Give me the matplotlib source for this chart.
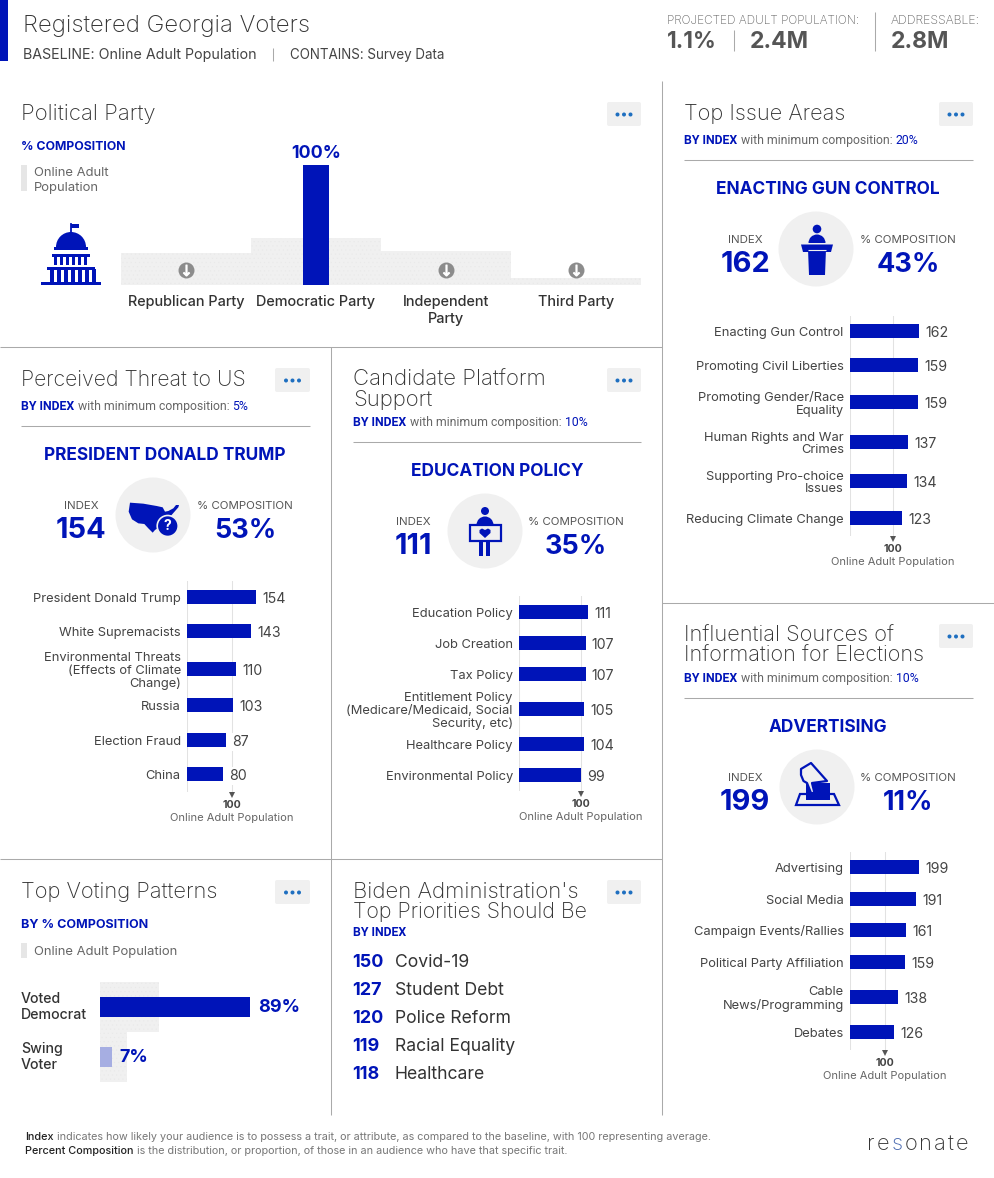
import matplotlib
matplotlib.use("Agg")
import matplotlib.pyplot as plt
from matplotlib.patches import Rectangle, Circle, Polygon, FancyBboxPatch, Wedge

W, H = 994, 1178
BLUE = "#0014b8"
GRAYBAR = "#f0f0f0"
SANS = "Inter"
COND = "Roboto"
plt.rcParams["hatch.linewidth"] = 0.3

# ---------- data ----------
party_names = ["Republican Party", "Democratic Party", "Independent\nParty", "Third Party"]
party_audience = [0, 100, 0, 0]
party_baseline = [27, 39, 28, 6]

threat_labels = ["President Donald Trump", "White Supremacists",
                 "Environmental Threats\n(Effects of Climate\nChange)", "Russia", "Election Fraud", "China"]
threat_values = [154, 143, 110, 103, 87, 80]

platform_labels = ["Education Policy", "Job Creation", "Tax Policy",
                   "Entitlement Policy\n(Medicare/Medicaid, Social\nSecurity, etc)", "Healthcare Policy",
                   "Environmental Policy"]
platform_values = [111, 107, 107, 105, 104, 99]

issue_labels = ["Enacting Gun Control", "Promoting Civil Liberties", "Promoting Gender/Race\nEquality",
                "Human Rights and War\nCrimes", "Supporting Pro-choice\nIssues", "Reducing Climate Change"]
issue_values = [162, 159, 159, 137, 134, 123]

source_labels = ["Advertising", "Social Media", "Campaign Events/Rallies", "Political Party Affiliation",
                 "Cable\nNews/Programming", "Debates"]
source_values = [199, 191, 161, 159, 138, 126]

voting_labels = ["Voted\nDemocrat", "Swing\nVoter"]
voting_audience = [89, 7]
voting_baseline = [35, 16]

priority_values = [150, 127, 120, 119, 118]
priority_labels = ["Covid-19", "Student Debt", "Police Reform", "Racial Equality", "Healthcare"]

# ---------- canvas ----------
fig = plt.figure(figsize=(W / 100, H / 100), dpi=100, facecolor="white")
bg = fig.add_axes([0, 0, 1, 1])
bg.set_xlim(0, W)
bg.set_ylim(H, 0)
bg.axis("off")
renderer = fig.canvas.get_renderer()


def T(x, y, s, px, color="#333333", weight="normal", ha="left", va="center", family=SANS, ax=bg, **kw):
    return ax.text(x, y + 1.5, s, fontsize=px * 0.72, color=color, fontweight=weight, ha=ha, va=va,
                   family=family, **kw)


def parts(x, y, items, px, family=SANS):
    """Consecutive runs of differently styled text on a line."""
    for s, color, weight in items:
        t = T(x, y, s, px, color=color, weight=weight, family=family)
        x += t.get_window_extent(renderer).width + px * 0.28


def title(x, y, s, px=21.8):
    T(x, y, s, px, "#333333", "light")


def hline(x0, x1, y, color="#aaaaaa", lw=0.75):
    bg.plot([x0, x1], [y, y], color=color, lw=lw, solid_capstyle="butt")


def vline(x, y0, y1, color="#aaaaaa", lw=0.75):
    bg.plot([x, x], [y0, y1], color=color, lw=lw, solid_capstyle="butt")


def button(x0, x1, y0, y1):
    bg.add_patch(FancyBboxPatch((x0 + 1, y0 + 1), x1 - x0 - 2, y1 - y0 - 2, boxstyle="round,pad=1,rounding_size=2",
                                fc="#f0f0f0", ec="none"))
    cx, cy = (x0 + x1) / 2, (y0 + y1) / 2 + 0.5
    for d in (-6.5, 0, 6.5):
        bg.add_patch(Circle((cx + d, cy), 2, fc="#1f6fc0", ec="none"))


def by_index(x, y, pct):
    parts(x, y, [("BY INDEX", BLUE, "bold"), ("with minimum composition:", "#666666", "normal"),
                 (pct, BLUE, "normal")], 12.2, family=COND)


def kpi(heading, hx, hy, ix, index, cx, cy, px, pct):
    T(hx, hy, heading, 17.3, BLUE, "bold", ha="center")
    T(ix, hy + 50, "INDEX", 11.5, "#555555", ha="center")
    T(ix, hy + 75, index, 29, BLUE, "bold", ha="center")
    bg.add_patch(Circle((cx, cy), 37.5, fc="#f0f0f0", ec="none"))
    T(px, hy + 50, "% COMPOSITION", 11.5, "#555555", ha="center")
    T(px, hy + 75, pct, 27, BLUE, "bold", ha="center")


def index_chart(x0, max_px, rows, labels, values, y_top, y_tick):
    scale = max_px / max(values)
    ax = fig.add_axes([x0 / W, 1 - y_tick / H, (W - x0) / W, (y_tick - y_top) / H])
    ax.set_xlim(0, (W - x0) / scale)
    ax.set_ylim(y_tick, y_top)
    ax.axis("off")
    ax.axvline(0, color="#e2e2e2", lw=0.75, zorder=1)
    ax.axvline(100, color="#e2e2e2", lw=0.75, zorder=1)
    ax.barh(rows, values, height=14, color=BLUE, zorder=2)
    for y, v, lab in zip(rows, values, labels):
        ax.annotate(str(v), (v, y + 2), xytext=(4.5, 0), textcoords="offset points", fontsize=10.2,
                    color="#444444", va="center", ha="left", family=SANS, zorder=3,
                    bbox=dict(fc="white", ec="none", pad=1.5))
        ax.annotate(lab, (0, y + 2), xytext=(-4.5, 0), textcoords="offset points", fontsize=9.3,
                    color="#444444", va="center", ha="right", family=SANS, linespacing=1.08,
                    annotation_clip=False)
    ax.plot([100], [y_tick + 3], marker="v", ms=4.5, color="#555555", clip_on=False, zorder=3, mew=0)
    ax.annotate("100", (100, y_tick), xytext=(0, -9.5), textcoords="offset points", fontsize=7.6, color="#444444",
                ha="center", va="center", family=SANS, fontweight="bold", annotation_clip=False)
    ax.annotate("Online Adult Population", (100, y_tick), xytext=(0, -18.5), textcoords="offset points", fontsize=8.0,
                color="#666666", ha="center", va="center", family=SANS, annotation_clip=False)


# ---------- header ----------
bg.add_patch(Rectangle((0, 0), 8, 61, fc=BLUE, ec="none"))
title(23, 24.5, "Registered Georgia Voters", 24)
T(23, 54, "BASELINE: Online Adult Population", 14.2, "#444444")
vline(273, 48, 61)
T(290, 54, "CONTAINS: Survey Data", 13.4, "#444444")
T(667, 20, "PROJECTED ADULT POPULATION:", 11.85, "#666666", "light")
T(667, 40, "1.1%", 22.5, "#555555", "bold")
vline(734, 30, 51)
T(750, 40, "2.4M", 23, "#555555", "bold")
vline(875, 12, 51)
T(891, 20, "ADDRESSABLE:", 12.3, "#666666", "light")
T(891, 40, "2.8M", 23, "#555555", "bold")

# ---------- dividers ----------
vline(662, 81, 1115)
vline(331, 347, 1115)
hline(0, 662, 346.5)
hline(0, 662, 858.5)
hline(662, W, 602.5)

# ---------- political party ----------
title(21, 112, "Political Party", 22.2)
button(607, 641, 102, 126)
T(21, 145, "% COMPOSITION", 12.3, BLUE, "bold")
bg.add_patch(Rectangle((21, 165), 6, 26, fc="#e6e6e6", ec="none"))
T(34, 172, "Online Adult", 13, "#666666")
T(34, 187, "Population", 13, "#666666")

pax = fig.add_axes([121 / W, 1 - 285 / H, 520 / W, 120 / H])
pax.set_xlim(-0.5, 3.5)
pax.set_ylim(0, 100)
pax.axis("off")
px = list(range(len(party_names)))
pax.bar(px, party_baseline, width=1.0, color=GRAYBAR, zorder=1, hatch="....", edgecolor="#e9e9e9", lw=0)
pax.bar(px, party_audience, width=0.2, color=BLUE, zorder=2)
for i, (v, name) in enumerate(zip(party_audience, party_names)):
    if v:
        pax.annotate(f"{v}%", (i, v), xytext=(0, 2.5), textcoords="offset points", fontsize=12.8, color=BLUE,
                     fontweight="bold", ha="center", va="bottom", family=SANS, annotation_clip=False)
    else:
        pax.plot([i], [12.5], marker="o", ms=11.5, color="#8c8c8c", mew=0, zorder=3)
        pax.plot([i], [12.5], marker=r"$\downarrow$", ms=8, color="white", mew=0.6, zorder=4)
    pax.annotate(name, (i, 0), xytext=(0, -7.5), textcoords="offset points", fontsize=10.4, color="#333333",
                 fontweight="medium", ha="center", va="top", family=SANS, linespacing=1.2, annotation_clip=False)

# capitol icon
bg.plot([71, 71], [224, 234], color=BLUE, lw=1.3)
bg.add_patch(Rectangle((71, 224), 8, 4, fc=BLUE, ec="none"))
bg.add_patch(Wedge((71, 247), 15, 180, 360, fc=BLUE, ec="none"))
bg.add_patch(Rectangle((54, 247), 34, 3, fc=BLUE, ec="none"))
bg.add_patch(Rectangle((52, 254), 38, 3, fc=BLUE, ec="none"))
for cx in range(54, 90, 6):
    bg.add_patch(Rectangle((cx, 256), 3, 9, fc=BLUE, ec="none"))
bg.add_patch(Rectangle((47, 267), 48, 3, fc=BLUE, ec="none"))
for cx in range(50, 94, 7):
    bg.add_patch(Rectangle((cx, 269), 3.5, 13, fc=BLUE, ec="none"))
bg.add_patch(Rectangle((41, 281.5), 60, 3.5, fc=BLUE, ec="none"))

# ---------- perceived threat ----------
title(21, 378, "Perceived Threat to US", 21.3)
button(275, 310, 368, 392)
by_index(21, 405, "5%")
hline(21, 310, 425.5)
kpi("PRESIDENT DONALD TRUMP", 165, 454.5, 81, "154", 153, 515, 245, "53%")
index_chart(187, 69, [597, 631, 669, 705, 740, 774], threat_labels, threat_values, 581, 792)

us = [(60, 83), (100, 86), (140, 93), (158, 97), (165, 110), (175, 108), (190, 100), (198, 90), (207, 90), (205, 97),
      (190, 114), (178, 128), (160, 140), (150, 155), (135, 165), (128, 173), (115, 160), (103, 147), (85, 145), (66, 133), (56, 110)]
bg.add_patch(Polygon([(110 + a / 3, 475 + b / 3) for a, b in us], fc=BLUE, ec="none"))
bg.add_patch(Circle((167.7, 526), 10.5, fc=BLUE, ec="#f0f0f0", lw=1.2))
T(167.7, 524.5, "?", 14, "white", "bold", ha="center")

# ---------- candidate platform ----------
title(353, 378, "Candidate Platform", 22.2)
title(353, 398, "Support", 22.2)
button(607, 641, 368, 392)
by_index(353, 421, "10%")
hline(353, 641, 441.5)
kpi("EDUCATION POLICY", 497, 470.5, 413, "111", 485, 531, 576, "35%")
index_chart(519, 69, [612, 643, 674, 709, 744, 775], platform_labels, platform_values, 596, 791)

bg.add_patch(Circle((485, 511), 4, fc=BLUE, ec="none"))
bg.add_patch(Wedge((485, 525), 8.5, 180, 360, fc=BLUE, ec="none"))
bg.add_patch(Rectangle((470, 524.5), 30.5, 16.5, fc="#f0f0f0", ec=BLUE, lw=1.6))
bg.add_patch(Rectangle((479, 541), 4, 15, fc=BLUE, ec="none"))
bg.add_patch(Rectangle((486, 541), 4, 15, fc=BLUE, ec="none"))
bg.add_patch(Polygon([(479.5, 530), (482, 528.5), (485, 530), (488, 528.5), (490.5, 530), (490.5, 533), (485, 538), (479.5, 533)],
                     fc=BLUE, ec="none"))

# ---------- top issues ----------
title(684, 112, "Top Issue Areas")
button(939, 973, 102, 126)
by_index(684, 139, "20%")
hline(684, 973, 159.5)
kpi("ENACTING GUN CONTROL", 828, 188.5, 745, "162", 816, 249, 908, "43%")
index_chart(850, 69, [331, 365, 402, 442, 481, 518], issue_labels, issue_values, 316, 536)

bg.add_patch(Circle((817, 229), 4.3, fc=BLUE, ec="none"))
bg.add_patch(Wedge((817, 243), 8.5, 180, 360, fc=BLUE, ec="none"))
bg.add_patch(Polygon([(808, 249), (826, 249), (825, 275), (809, 275)], fc=BLUE, ec="none"))
bg.add_patch(Polygon([(801, 244.5), (833, 244.5), (831, 252), (803, 252)], fc=BLUE, ec="none"))
hline(808, 826, 249.5, color="#f0f0f0", lw=0.8)

# ---------- influential sources ----------
title(684, 634, "Influential Sources of")
title(684, 654, "Information for Elections", 21.6)
button(939, 973, 624, 648)
by_index(684, 677, "10%")
hline(684, 973, 697.5)
kpi("ADVERTISING", 828, 726.5, 745, "199", 817, 787, 908, "11%")
index_chart(850, 69, [867, 899, 930, 962, 997, 1032], source_labels, source_values, 852, 1050)

bg.add_patch(Polygon([(800, 794), (834, 794), (839, 805), (796, 805)], fc="#f0f0f0", ec=BLUE, lw=1.6))
bg.add_patch(Rectangle((806, 783), 24, 17, fc=BLUE, ec="none"))
hand = [(801, 769), (811, 763), (827, 781), (812, 783), (814.5, 793), (811, 793), (807, 783), (803.5, 781), (801, 775)]
bg.add_patch(Polygon(hand, fc="#f0f0f0", ec=BLUE, lw=1.6, joinstyle="round"))

# ---------- voting patterns ----------
title(21, 890, "Top Voting Patterns", 21.9)
button(275, 310, 880, 904)
T(21, 923, "BY % COMPOSITION", 12.5, BLUE, "bold")
bg.add_patch(Rectangle((21, 943), 6, 15, fc="#e6e6e6", ec="none"))
T(34, 950, "Online Adult Population", 13, "#666666")

vax = fig.add_axes([100 / W, 1 - 1082 / H, 210 / W, 100 / H])
vax.set_xlim(0, 210 * 89 / 150)
vax.set_ylim(1.5, -0.5)
vax.axis("off")
vy = list(range(len(voting_labels)))
vax.barh(vy, voting_baseline, height=1.0, color=GRAYBAR, hatch="....", edgecolor="#e9e9e9", lw=0, zorder=1)
bars = vax.barh(vy, voting_audience, height=0.4, color=[BLUE, "#a6aee2"], zorder=2)
for y, v, lab in zip(vy, voting_audience, voting_labels):
    vax.annotate(f"{v}%", (v, y), xytext=(5.5, 0), textcoords="offset points", fontsize=13, color=BLUE,
                 fontweight="bold", va="center", ha="left", family=SANS, zorder=3)
    vax.annotate(lab, (0, y), xytext=(-57, 0), textcoords="offset points", fontsize=10.2, color="#333333",
                 fontweight="medium", va="center", ha="left", family=SANS, linespacing=1.12, annotation_clip=False)

# ---------- biden priorities ----------
title(353, 890, "Biden Administration's", 22.2)
title(353, 910, "Top Priorities Should Be", 21.4)
button(607, 641, 880, 904)
T(353, 931, "BY INDEX", 12.2, BLUE, "bold", family=COND)
for i, (v, lab) in enumerate(zip(priority_values, priority_labels)):
    T(352, 961 + 28 * i, str(v), 18, BLUE, "bold")
    T(395, 961 + 28 * i, lab, 17.6, "#333333")

# ---------- footer ----------
parts(25, 1135.5, [("Index", "#222222", "medium"),
                   ("indicates how likely your audience is to possess a trait, or attribute, as compared to the baseline, with 100 representing average.",
                    "#777777", "normal")], 10.85)
parts(25, 1149.5, [("Percent Composition", "#222222", "medium"),
                   ("is the distribution, or proportion, of those in an audience who have that specific trait.",
                    "#777777", "normal")], 10.85)
logo_x = 867
for ch in "resonate":
    col = "#4a6ab0" if ch == "s" else "#333333"
    t = T(logo_x, 1142.5, ch, 22, col, "light")
    logo_x += t.get_window_extent(renderer).width + 2.0

fig.savefig("out.png", dpi=100, facecolor="white")
